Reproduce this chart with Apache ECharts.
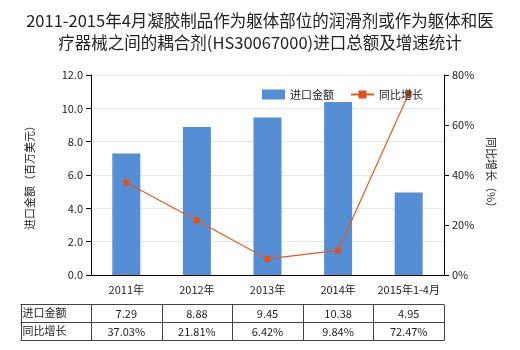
<!DOCTYPE html>
<html><head><meta charset="utf-8">
<script src="https://cdn.jsdelivr.net/npm/echarts@6/dist/echarts.min.js"></script>
<style>html,body{margin:0;padding:0;background:#fff}#c{width:520px;height:350px}</style>
</head><body><div id="c"></div>
<script>
var categories = ['2011年','2012年','2013年','2014年','2015年1-4月'];
var importValues = [7.29, 8.88, 9.45, 10.38, 4.95];
var growthValues = [37.03, 21.81, 6.42, 9.84, 72.47];
var importLabels = ['7.29','8.88','9.45','10.38','4.95'];
var growthLabels = ['37.03%','21.81%','6.42%','9.84%','72.47%'];
var rowNames = ['进口金额','同比增长'];
var titleText = '2011-2015年4月凝胶制品作为躯体部位的润滑剂或作为躯体和医\n疗器械之间的耦合剂(HS30067000)进口总额及增速统计';

var FONT = '"Noto Sans CJK SC","Noto Sans",sans-serif';
var chart = echarts.init(document.getElementById('c'), null, {renderer:'canvas'});
var option = {
  animation:false,
  textStyle:{fontFamily:FONT},
  title:{text:titleText,left:'center',top:5,
    textStyle:{fontSize:16.5,fontWeight:'normal',color:'#222',lineHeight:22,fontFamily:FONT}},
  legend:{left:257,top:84,itemGap:16,itemWidth:23,itemHeight:10,
    textStyle:{fontSize:11,color:'#222',fontFamily:FONT},
    data:[{name:'进口金额',icon:'rect'},{name:'同比增长'}]},
  grid:{left:91,right:76,top:75,bottom:75},
  xAxis:{type:'category',data:categories,
    axisLine:{lineStyle:{color:'#000'}},
    axisTick:{alignWithLabel:true,length:4,lineStyle:{color:'#000'}},
    axisLabel:{color:'#222',fontSize:11,margin:9,interval:0}},
  yAxis:[
    {type:'value',min:0,max:12,interval:2,
     name:'进口金额（百万美元）',nameLocation:'middle',nameGap:56,nameRotate:90,
     nameTextStyle:{fontSize:11,color:'#222'},
     axisLine:{show:true,lineStyle:{color:'#000'}},
     axisTick:{show:true,length:5,lineStyle:{color:'#000'}},
     axisLabel:{color:'#222',fontSize:11,formatter:function(v){return v.toFixed(1);}},
     splitLine:{lineStyle:{color:'#e3e8e8'}}},
    {type:'value',min:0,max:80,interval:20,
     name:'同比增长（%）',nameLocation:'middle',nameGap:40,nameRotate:-90,
     nameTextStyle:{fontSize:11,color:'#222'},
     axisLine:{show:true,lineStyle:{color:'#000'}},
     axisTick:{show:true,length:5,lineStyle:{color:'#000'}},
     axisLabel:{color:'#222',fontSize:11,formatter:'{value}%'},
     splitLine:{show:false}}
  ],
  series:[
    {name:'进口金额',type:'bar',data:importValues,barWidth:28,
     itemStyle:{color:'#558ed5'}},
    {name:'同比增长',type:'line',yAxisIndex:1,data:growthValues,
     symbol:'rect',symbolSize:6,
     lineStyle:{color:'#e55a1c',width:1.2},itemStyle:{color:'#e0501a'}}
  ]
};
chart.setOption(option);

// Build data table under the chart using axis positions
var pts = categories.map(function(c,i){return chart.convertToPixel({seriesIndex:0},[i,0]);});
var xs = pts.map(function(p){return p[0];});
var yBase = pts[0][1];
var half = (xs[1]-xs[0])/2;
var tableLeft = 20.5, tableTop = yBase+29, rowH = 18;
var bounds = [tableLeft, xs[0]-half];
xs.forEach(function(x){bounds.push(x+half);});
var tableRight = bounds[bounds.length-1];
var g = [];
var ls = {stroke:'#444',lineWidth:1};
for (var r=0;r<=2;r++){
  var yy = Math.round(tableTop + r*rowH)+0.5;
  g.push({type:'line',shape:{x1:tableLeft,y1:yy,x2:tableRight,y2:yy},style:ls,silent:true});
}
bounds.forEach(function(b){
  var xx = Math.round(b)+0.5;
  g.push({type:'line',shape:{x1:xx,y1:Math.round(tableTop)+0.5,x2:xx,y2:Math.round(tableTop+2*rowH)+0.5},style:ls,silent:true});
});
var rows = [importLabels, growthLabels];
rows.forEach(function(row,ri){
  var cy = tableTop + ri*rowH + rowH/2;
  g.push({type:'text',x:tableLeft+2,y:cy,style:{text:rowNames[ri],fill:'#222',font:'11px '+FONT,textVerticalAlign:'middle',verticalAlign:'middle'}});
  row.forEach(function(t,ci){
    g.push({type:'text',x:xs[ci],y:cy+1,style:{text:t,fill:'#222',font:'11px '+FONT,textAlign:'center',align:'center',textVerticalAlign:'middle',verticalAlign:'middle'}});
  });
});
chart.setOption({graphic:g});
</script></body></html>
